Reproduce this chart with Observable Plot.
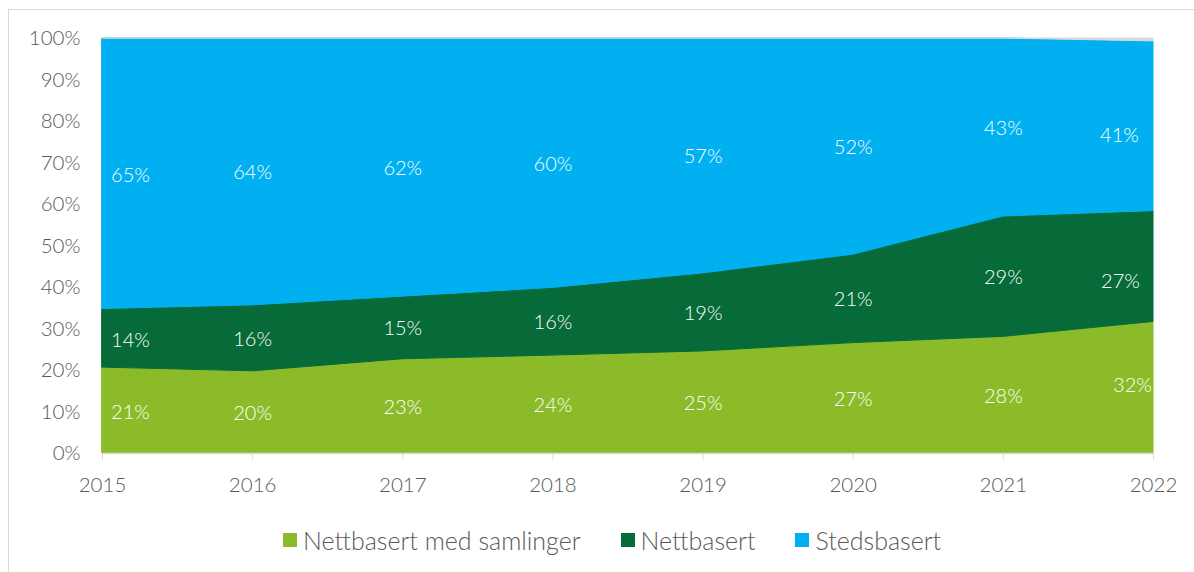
<!DOCTYPE html>
<html>
<head>
<meta charset="utf-8">
<script src="https://cdn.jsdelivr.net/npm/d3@7"></script>
<script src="https://cdn.jsdelivr.net/npm/@observablehq/plot@0.6"></script>
<style>
  html, body { margin: 0; padding: 0; background: #fff; }
  body { width: 1194px; height: 572px; position: relative; overflow: hidden; font-family: Lato, "Open Sans", sans-serif; font-weight: 300; }
  #frame { position: absolute; left: 8px; top: 9px; width: 1210px; height: 620px; border: 1.5px solid #d9d9d9; box-sizing: border-box; }
  #chart { position: absolute; left: 0; top: 0; }
  #legend { position: absolute; left: 283px; top: 526px; display: flex; align-items: center; font-size: 25px; line-height: 28px; color: #595959; white-space: nowrap; }
  .item { display: flex; align-items: center; margin-right: 40px; }
  .sw { width: 14px; height: 14px; margin-right: 6px; }
</style>
</head>
<body>
<div id="frame"></div>
<div id="chart"></div>
<div id="legend"></div>
<script>
const years = [2015, 2016, 2017, 2018, 2019, 2020, 2021, 2022];
const seriesNames = ["Nettbasert med samlinger", "Nettbasert", "Stedsbasert", "Annet"];
const seriesColors = ["#8bbb29", "#066b38", "#00b0f0", "#d9d9d9"];
const legendNames = ["Nettbasert med samlinger", "Nettbasert", "Stedsbasert"];
const nettSamlinger = [20.7, 19.8, 22.7, 23.6, 24.6, 26.6, 28.1, 31.7];
const nettbasert    = [14.1, 15.9, 15.1, 16.3, 18.8, 21.3, 29.0, 26.7];
const stedsbasert   = [65.2, 64.3, 62.2, 60.1, 56.6, 52.1, 42.9, 40.9];
const annet         = [0, 0, 0, 0, 0, 0, 0, 0.7];
const yTicks = [0, 10, 20, 30, 40, 50, 60, 70, 80, 90, 100];

const seriesValues = [nettSamlinger, nettbasert, stedsbasert, annet];
const data = [];
seriesNames.forEach((s, i) => years.forEach((yr, j) => data.push({year: yr, series: s, value: seriesValues[i][j]})));

const FONT = "Lato, 'Open Sans', sans-serif";
const stackOpts = {x: "year", y: "value", z: "series", order: seriesNames};
const labelOf = d => d.value >= 1 ? Math.round(d.value) + "%" : null;
const textBase = {fill: "white", fontSize: 20, fontWeight: 300, fontFamily: FONT};
const first = years[0], last = years[years.length - 1];
// label nudges for the last column, as placed in the original
const lastNudge = {"Nettbasert med samlinger": [-21, -2], "Nettbasert": [-33, 15], "Stedsbasert": [-34, 9]};

const chart = Plot.plot({
  width: 1194,
  height: 500,
  marginTop: 38,
  marginBottom: 47,
  marginLeft: 102,
  marginRight: 41,
  style: {fontFamily: FONT, fontSize: "20px", fontWeight: 300, color: "#595959", background: "transparent"},
  x: {domain: [first, last], ticks: years, tickFormat: d => String(d), label: null},
  y: {domain: [0, 100], ticks: yTicks, tickFormat: d => d + "%", label: null},
  color: {domain: seriesNames, range: seriesColors},
  marks: [
    Plot.areaY(data, Plot.stackY({...stackOpts, fill: "series", stroke: "series", strokeWidth: 1, curve: "linear"})),
    Plot.ruleY([0], {stroke: "#d9d9d9", strokeWidth: 1.5}),
    Plot.axisX({ticks: years, tickSize: 7, tickPadding: 17, stroke: "#d9d9d9", fill: "#595959", fontSize: 20.5, tickFormat: d => String(d), label: null}),
    Plot.axisY({ticks: yTicks, tickSize: 0, tickPadding: 22, fill: "#595959", fontSize: 20.5, tickFormat: d => d + "%", label: null}),
    Plot.text(data, Plot.stackY({...stackOpts, ...textBase, text: labelOf, filter: d => d.year === first, dx: 28, dy: 2})),
    Plot.text(data, Plot.stackY({...stackOpts, ...textBase, text: labelOf, filter: d => d.year !== first && d.year !== last, dy: 1})),
    ...legendNames.map(s => Plot.text(data, Plot.stackY({...stackOpts, ...textBase,
      text: d => d.series === s ? labelOf(d) : null,
      filter: d => d.year === last, dx: lastNudge[s][0], dy: lastNudge[s][1]})))
  ]
});
document.getElementById("chart").appendChild(chart);

const legend = document.getElementById("legend");
legendNames.forEach((name, i) => {
  const item = document.createElement("div");
  item.className = "item";
  const sw = document.createElement("div");
  sw.className = "sw";
  sw.style.background = seriesColors[i];
  const label = document.createElement("span");
  label.textContent = name;
  item.appendChild(sw);
  item.appendChild(label);
  legend.appendChild(item);
});
</script>
</body>
</html>
